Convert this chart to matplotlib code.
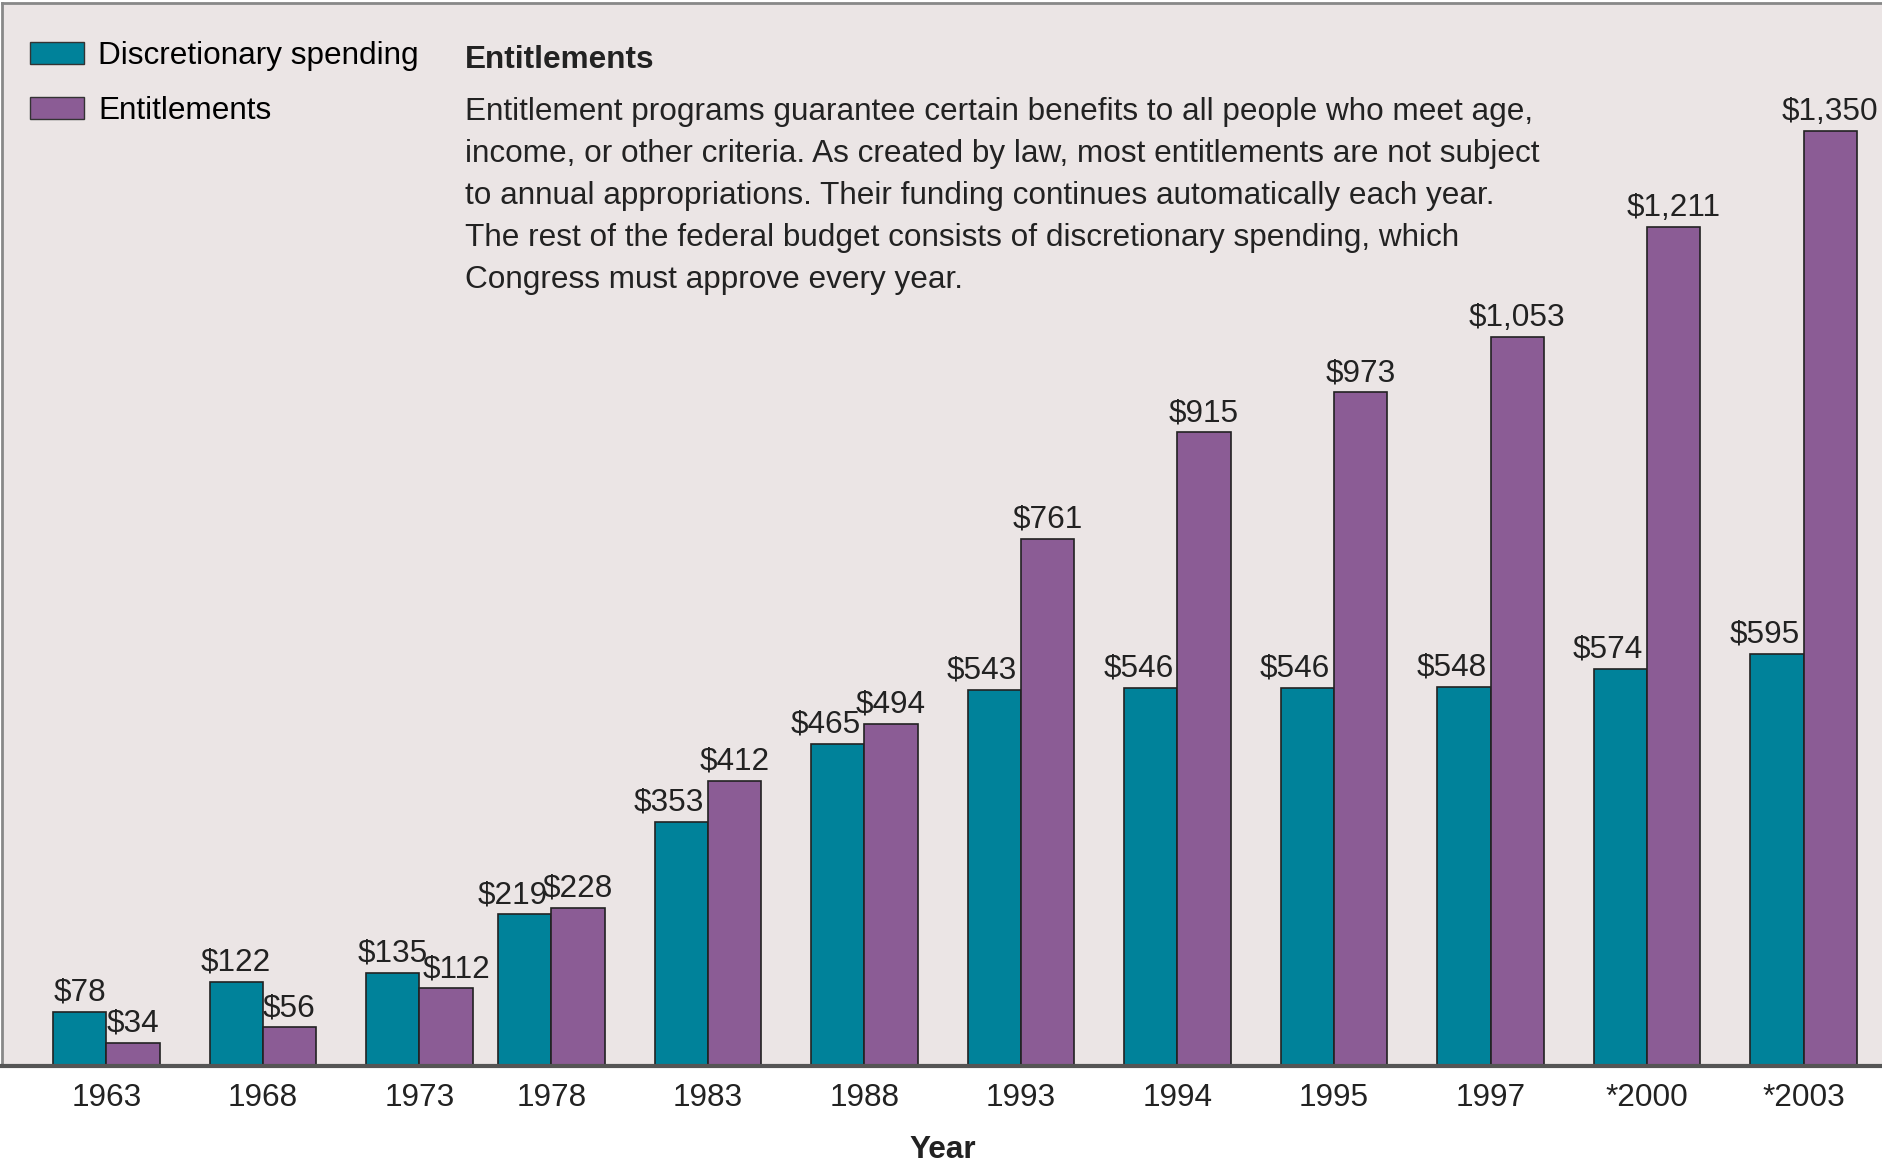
import matplotlib.pyplot as plt
import numpy as np
from matplotlib.patches import Patch

plt.rcParams['font.family'] = ['Liberation Sans', 'DejaVu Sans']

years = ['1963', '1968', '1973', '1978', '1983', '1988', '1993', '1994', '1995', '1997', '*2000', '*2003']
discretionary = [78, 122, 135, 219, 353, 465, 543, 546, 546, 548, 574, 595]
entitlements = [34, 56, 112, 228, 412, 494, 761, 915, 973, 1053, 1211, 1350]

note_title = 'Entitlements'
note_text = ('Entitlement programs guarantee certain benefits to all people who meet age,\n'
             'income, or other criteria. As created by law, most entitlements are not subject\n'
             'to annual appropriations. Their funding continues automatically each year.\n'
             'The rest of the federal budget consists of discretionary spending, which\n'
             'Congress must approve every year.')

teal = '#00829a'
purple = '#8b5c95'
bg = '#ebe5e5'
fs = 22.7

fig = plt.figure(figsize=(18.83, 11.67), dpi=100)
ax = fig.add_axes([0.001, 0.0865, 0.999, 0.911])
ax.set_facecolor(bg)

pos = np.arange(len(years), dtype=float)
pos[3:] -= 0.157
w = 0.34

ax.bar(pos - w / 2, discretionary, w, color=teal, edgecolor='#222222', linewidth=1.2)
ax.bar(pos + w / 2, entitlements, w, color=purple, edgecolor='#222222', linewidth=1.2)

for i in range(len(years)):
    off = -0.08 if i >= 3 else 0
    ax.text(pos[i] - w / 2 + off, discretionary[i] + 6, '$' + format(discretionary[i], ','),
            ha='center', va='bottom', fontsize=fs, color='#222222')
    off2 = 0.07 if i == 2 else 0
    ax.text(pos[i] + w / 2 + off2, entitlements[i] + 6, '$' + format(entitlements[i], ','),
            ha='center', va='bottom', fontsize=fs, color='#222222')

ax.set_xlim(-0.667, 11.35)
ax.set_ylim(0, 1535)
ax.set_xticks(pos)
ax.set_xticklabels(years, fontsize=fs, color='#222222')
ax.tick_params(axis='x', length=0, pad=12)
ax.set_yticks([])
ax.set_xlabel('Year', fontsize=fs, fontweight='bold', color='#222222', labelpad=16)

for s in ['top', 'left']:
    ax.spines[s].set_color('#888888')
    ax.spines[s].set_linewidth(2)
ax.spines['bottom'].set_color('#555555')
ax.spines['bottom'].set_linewidth(3)
ax.spines['right'].set_visible(False)

handles = [Patch(facecolor=teal, edgecolor='#333333'), Patch(facecolor=purple, edgecolor='#333333')]
ax.legend(handles, ['Discretionary spending', 'Entitlements'], loc='upper left',
          bbox_to_anchor=(0.015, 0.964), frameon=False, fontsize=fs, borderpad=0, borderaxespad=0,
          handlelength=1.7, handleheight=0.7, handletextpad=0.45, labelspacing=0.78)

fig.text(0.247, 0.9487, note_title, fontsize=fs, fontweight='bold', color='#222222', va='center')
fig.text(0.247, 0.9165, note_text, fontsize=fs, color='#222222', va='top', linespacing=1.52)

fig.savefig('out.png', dpi=100)
